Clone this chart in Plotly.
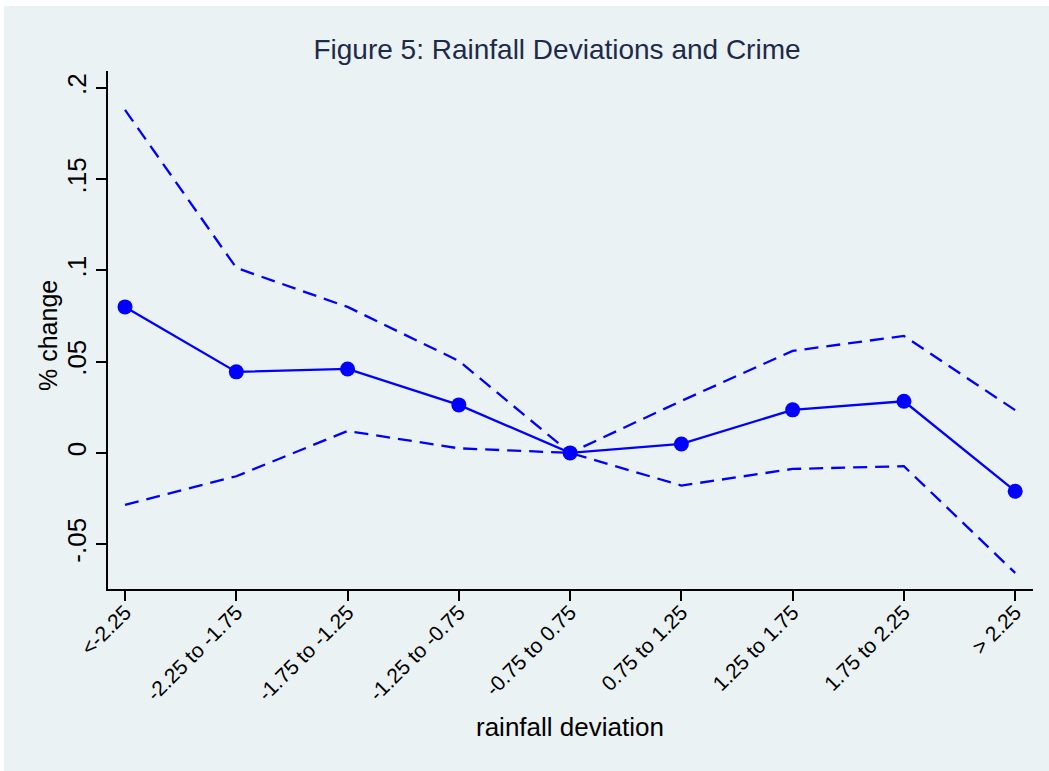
import plotly.graph_objects as go

# Rainfall deviation bins and estimated % change in crime with 95% bounds
categories = ["<-2.25", "-2.25 to -1.75", "-1.75 to -1.25", "-1.25 to -0.75",
              "-0.75 to 0.75", "0.75 to 1.25", "1.25 to 1.75", "1.75 to 2.25", "> 2.25"]
estimate = [0.080, 0.0444, 0.046, 0.0263, 0.0, 0.0049, 0.0236, 0.0283, -0.0210]
upper = [0.188, 0.1014, 0.080, 0.0504, 0.0, 0.0285, 0.0559, 0.0641, 0.0234]
lower = [-0.0285, -0.0128, 0.012, 0.0025, 0.0, -0.0179, -0.0088, -0.0073, -0.0658]
y_ticks = [-0.05, 0, 0.05, 0.1, 0.15, 0.2]
y_tick_text = ["-.05", "0", ".05", ".1", ".15", ".2"]

x_idx = list(range(len(categories)))
blue = "#0000FF"
font_family = "Liberation Sans, Arial, Helvetica, sans-serif"

fig = go.Figure()
fig.add_trace(go.Scatter(x=x_idx, y=upper, mode="lines",
                         line=dict(color=blue, width=2.3, dash="14px,8px"),
                         showlegend=False))
fig.add_trace(go.Scatter(x=x_idx, y=lower, mode="lines",
                         line=dict(color=blue, width=2.3, dash="14px,8px"),
                         showlegend=False))
fig.add_trace(go.Scatter(x=x_idx, y=estimate, mode="lines+markers",
                         line=dict(color=blue, width=2.3),
                         marker=dict(color=blue, size=15),
                         showlegend=False))

W, H = 1049, 771
ml, mr, mt, mb = 108, 16, 71, 182
pw, ph = W - ml - mr, H - mt - mb

# light outer frame with a thin white edge at top and left
fig.add_shape(type="rect", xref="paper", yref="paper", layer="below",
              x0=(4 - ml) / pw, x1=(W - ml) / pw,
              y0=-mb / ph, y1=(H - mb - 6) / ph,
              fillcolor="#EAF2F3", line=dict(width=0))

# axis titles placed as annotations
fig.add_annotation(text="% change", textangle=-90, showarrow=False,
                   xref="paper", yref="paper",
                   x=(48 - ml) / pw, y=(H - mb - 336) / ph,
                   xanchor="center", yanchor="middle",
                   font=dict(size=25, color="black"))
fig.add_annotation(text="rainfall deviation", showarrow=False,
                   xref="paper", yref="paper",
                   x=(570 - ml) / pw, y=(H - mb - 727) / ph,
                   xanchor="center", yanchor="middle",
                   font=dict(size=26, color="black"))

fig.update_layout(
    width=W, height=H,
    margin=dict(l=ml, r=mr, t=mt, b=mb),
    paper_bgcolor="white",
    plot_bgcolor="white",
    font=dict(family=font_family, color="black"),
    title=dict(text="Figure 5: Rainfall Deviations and Crime",
               x=557 / W, xanchor="center", y=1 - 49 / H, yanchor="middle",
               font=dict(size=28, color="#1E2A4A")),
)

fig.update_xaxes(
    range=[-0.153, 8.16],
    tickmode="array", tickvals=x_idx, ticktext=categories,
    tickangle=-45, tickfont=dict(size=21), ticklabelstandoff=-9,
    ticks="outside", ticklen=10, tickwidth=1.5, tickcolor="black",
    showline=True, linecolor="black", linewidth=1.5,
    showgrid=False, zeroline=False,
)
fig.update_yaxes(
    range=[-0.0746, 0.2093],
    tickmode="array", tickvals=y_ticks, ticktext=y_tick_text,
    tickangle=-90, tickfont=dict(size=26),
    ticks="outside", ticklen=10, tickwidth=1.5, tickcolor="black",
    showline=True, linecolor="black", linewidth=1.5,
    showgrid=True, gridcolor="#EAF2F3", gridwidth=2, zeroline=False,
)

fig.write_html("out.html")
